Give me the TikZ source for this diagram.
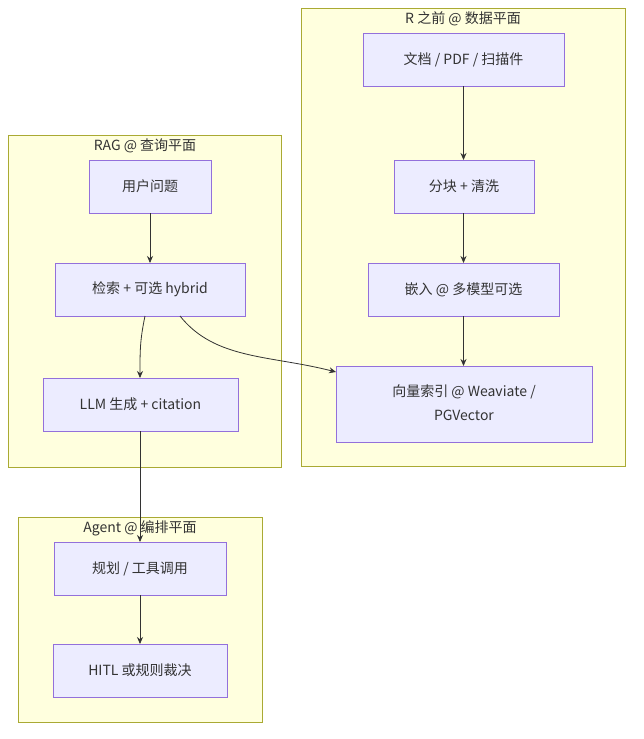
\documentclass[tikz,border=0pt]{standalone}
\usepackage{fontspec}
\setmainfont{Noto Sans CJK SC}
\usetikzlibrary{arrows.meta}
\definecolor{nfill}{HTML}{ECECFF}
\definecolor{nline}{HTML}{9370DB}
\definecolor{gfill}{HTML}{FFFFDE}
\definecolor{gline}{HTML}{AAAA33}
\definecolor{eline}{HTML}{333333}
\begin{document}
\begin{tikzpicture}[x=1pt,y=-1pt,
  grp/.style={draw=gline,fill=gfill,line width=0.8pt},
  box/.style={draw=nline,fill=nfill,line width=0.8pt},
  lbl/.style={font=\fontsize{14}{24}\selectfont,text=eline,align=center},
  ttl/.style={font=\fontsize{14}{17}\selectfont,text=eline},
  edge/.style={draw=eline,line width=0.8pt,-{Stealth[length=7pt,width=6pt]}}]
\useasboundingbox (0,0) rectangle (643,739);
\fill[white] (0,0) rectangle (643,739);
% groups
\draw[grp] (301,8) rectangle (625,466);
\node[ttl] (tR) at (463,19) {R 之前 @ 数据平面};
\draw[grp] (8,135) rectangle (281,467);
\node[ttl] (tRAG) at (145,146) {RAG @ 查询平面};
\draw[grp] (18,517) rectangle (262,722);
\node[ttl] (tA) at (140,528) {Agent @ 编排平面};
% nodes
\draw[box] (363,33) rectangle (564,86);
\node[lbl] (doc) at (463.5,59.5) {文档 / PDF / 扫描件};
\draw[box] (394,160) rectangle (534,213);
\node[lbl] (chk) at (464,186.5) {分块 + 清洗};
\draw[box] (368,263) rectangle (559,316);
\node[lbl] (emb) at (463.5,289.5) {嵌入 @ 多模型可选};
\draw[box] (336,366) rectangle (592,442);
\node[lbl] (idx) at (464,403) {向量索引 @ Weaviate /\\PGVector};
\draw[box] (89,160) rectangle (211,213);
\node[lbl] (usr) at (150,186.5) {用户问题};
\draw[box] (55,263) rectangle (245,316);
\node[lbl] (ret) at (150,289.5) {检索 + 可选 hybrid};
\draw[box] (43,378) rectangle (238,431);
\node[lbl] (llm) at (140.5,404.5) {LLM 生成 + citation};
\draw[box] (54,542) rectangle (226,595);
\node[lbl] (pln) at (140,568.5) {规划 / 工具调用};
\draw[box] (53,644) rectangle (227,697);
\node[lbl] (hit) at (140,670.5) {HITL 或规则裁决};
% edges
\draw[edge] (463.5,86) -- (463.5,160);
\draw[edge] (463.5,213) -- (463.5,263);
\draw[edge] (463.5,316) -- (463.5,366);
\draw[edge] (150,213) -- (150,263);
\draw[edge] (145,316) .. controls (140,340) and (140,350) .. (140,378);
\draw[edge] (180,316) .. controls (215,360) and (270,355) .. (336,372);
\draw[edge] (140,431) -- (140,542);
\draw[edge] (140,595) -- (140,644);
\end{tikzpicture}
\end{document}
